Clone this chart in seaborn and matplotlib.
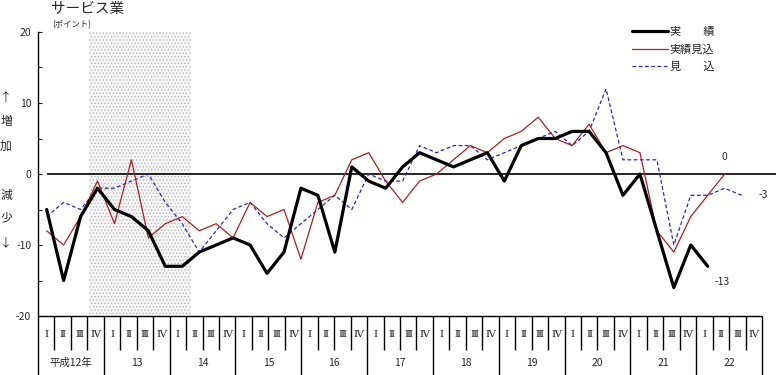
import matplotlib
matplotlib.use('Agg')
import matplotlib.pyplot as plt
import seaborn as sns

# データ（平成12年Ⅰ期〜）
title = 'サービス業'
unit = '(ポイント)'
years = ['平成12年', '13', '14', '15', '16', '17', '18', '19', '20', '21', '22']
quarters = ['Ⅰ', 'Ⅱ', 'Ⅲ', 'Ⅳ']
names = ['実　　績', '実績見込', '見　　込']

jisseki = [-5, -15, -6, -2, -5, -6, -8, -13, -13, -11, -10, -9, -10, -14, -11, -2,
           -3, -11, 1, -1, -2, 1, 3, 2, 1, 2, 3, -1, 4, 5, 5, 6, 6, 3, -3, 0,
           -8, -16, -10, -13]
jisseki_mikomi = [-8, -10, -6, -1, -7, 2, -9, -7, -6, -8, -7, -9, -4, -6, -5, -12,
                  -4, -3, 2, 3, -1, -4, -1, 0, 2, 4, 3, 5, 6, 8, 5, 4, 7, 3, 4, 3,
                  -8, -11, -6, -3, 0]
mikomi = [-6, -4, -5, -2, -2, -1, 0, -4, -7, -11, -8, -5, -4, -7, -9, -7,
          -5, -3, -5, 0, -1, -1, 4, 3, 4, 4, 2, 3, 4, 5, 6, 4, 6, 12, 2, 2,
          2, -10, -3, -3, -2, -3]

yticks = [20, 15, 10, 5, 0, -5, -10, -15, -20]
ytick_labels = ['20', '', '10', '', '0', '', '-10', '', '-20']
shade_start, shade_end = 2.5, 8.5   # 景気後退期

sns.set_style('white')
plt.rcParams['font.family'] = ['Noto Sans CJK JP', 'DejaVu Sans']
plt.rcParams['hatch.linewidth'] = 0.6

W, H = 783, 375
fig = plt.figure(figsize=(W / 100, H / 100), dpi=100)
ax = fig.add_axes([38.2 / W, 1 - 316 / H, 745.8 / W, 284 / H])
ax.patch.set_alpha(0)

n_q = len(years) * len(quarters)
ax.axvspan(shade_start, shade_end, facecolor='#f6f6f6', edgecolor='#b8b8b8',
           hatch='.....', lw=0, zorder=0)
ax.hlines(0, 0, n_q - 1, color='black', lw=1.2, zorder=1)

sns.lineplot(x=range(len(jisseki)), y=jisseki, ax=ax, color='black', lw=2.3,
             label=names[0], zorder=4)
sns.lineplot(x=range(len(jisseki_mikomi)), y=jisseki_mikomi, ax=ax, color='#a82222',
             lw=0.9, label=names[1], zorder=3)
sns.lineplot(x=range(len(mikomi)), y=mikomi, ax=ax, color='#2a2aa8', lw=0.9,
             linestyle=(0, (3, 2)), label=names[2], zorder=2)

ax.set_xlim(-0.5, n_q - 0.5)
ax.set_ylim(-20, 20)
ax.set_xticks([])
ax.set_yticks(yticks)
ax.set_yticklabels(ytick_labels, fontsize=7.5)
ax.tick_params(axis='y', direction='in', length=3, width=0.8, pad=5, left=True)
for s in ['top', 'right', 'bottom']:
    ax.spines[s].set_visible(False)
ax.spines['left'].set_linewidth(1)
ax.spines['left'].set_color('black')

# 最新値のラベル
ax.text(len(jisseki_mikomi) - 1, jisseki_mikomi[-1] + 2.4, str(jisseki_mikomi[-1]),
        ha='center', va='center', fontsize=7.5)
ax.text(len(mikomi), mikomi[-1], str(mikomi[-1]), ha='left', va='center', fontsize=7.5)
ax.text(len(jisseki) - 0.6, jisseki[-1] - 2.2, str(jisseki[-1]),
        ha='left', va='center', fontsize=7.5)

leg = ax.legend(loc='upper left', bbox_to_anchor=(632 / W, 1 - 27 / H),
                bbox_transform=fig.transFigure, frameon=False, fontsize=8,
                handlelength=3.2, handletextpad=0.2, labelspacing=0.65,
                borderpad=0, borderaxespad=0)

fig.text(51 / W, 1 - 9 / H, title, fontsize=10.5, ha='left', va='center')
fig.text(52 / W, 1 - 25 / H, unit, fontsize=6, ha='left', va='center')
for ch, y in [('↑', 97), ('増', 121), ('加', 146), ('減', 195), ('少', 218), ('↓', 243)]:
    fig.text(6 / W, 1 - y / H, ch, fontsize=8.5, ha='center', va='center')

# 下の期間表
tb = fig.add_axes([38 / W, 0, 724 / W, 59 / H])
tb.set_xlim(0, n_q)
tb.set_ylim(0, 1)
tb.axis('off')
tb.hlines(1, 0, n_q, color='black', lw=1, clip_on=False)
for k in range(n_q + 1):
    if k % 4 == 0:
        tb.vlines(k, 0, 1, color='black', lw=1, clip_on=False)
    else:
        tb.vlines(k, 0.42, 1, color='black', lw=1, clip_on=False)
for k in range(n_q):
    tb.text(k + 0.5, 0.69, quarters[k % 4], ha='center', va='center', fontsize=7.5,
            family=['DejaVu Serif', 'Noto Sans CJK JP'])
for j, yr in enumerate(years):
    tb.text(j * 4 + 2, 0.2, yr, ha='center', va='center', fontsize=7.5)

fig.savefig('out.png', dpi=100)
